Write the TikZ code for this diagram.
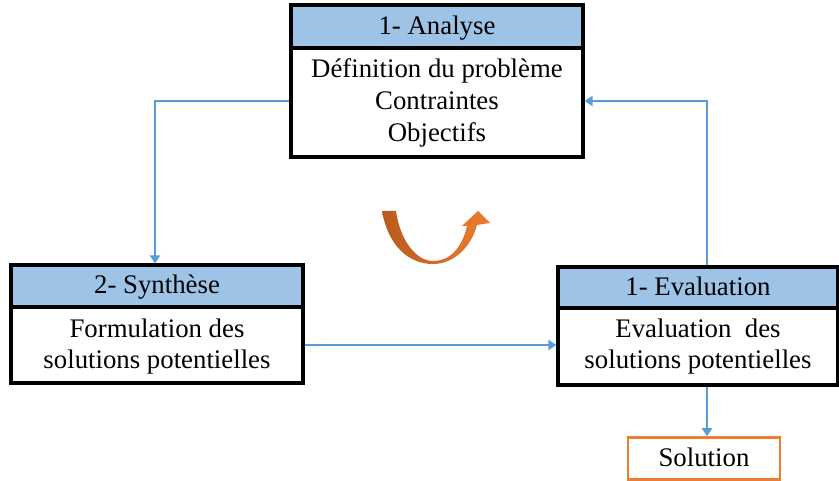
\documentclass[tikz,border=0pt]{standalone}
\usepackage{fontspec}
\setmainfont{Liberation Serif}[Ligatures=TeX]
\usetikzlibrary{arrows.meta}
\definecolor{hdrblue}{HTML}{9DC3E6}
\definecolor{arrblue}{HTML}{5B9BD5}
\definecolor{orng}{HTML}{ED7D31}
\definecolor{dorng}{HTML}{B85A1E}
\tikzset{
  hdr/.style={draw=black, line width=3.2pt, fill=hdrblue, inner sep=0pt, text height=20pt, text depth=4pt, font=\rmfamily\fontsize{26.8}{30}\selectfont},
  bodybox/.style={draw=black, line width=3.2pt, fill=white, inner sep=0pt, align=center, font=\rmfamily\fontsize{26.8}{32}\selectfont},
  solbox/.style={draw=orng, line width=2.6pt, fill=white, inner sep=0pt, text height=20pt, text depth=4pt, font=\rmfamily\fontsize{26.8}{30}\selectfont},
  conn/.style={draw=arrblue, line width=2.8pt, -{Triangle[width=10pt,length=8pt]}}
}
\begin{document}
\begin{tikzpicture}[x=1pt,y=-1pt]
\useasboundingbox (0,0) rectangle (839,481);
% Analyse
\node[bodybox, minimum width=292pt, minimum height=109pt] (anbody) at (437,102.5)
  {Définition du problème\\Contraintes\\Objectifs};
\node[hdr, minimum width=292pt, minimum height=43pt] (anhead) at (437,26.5) {1- Analyse};
% Synthese
\node[bodybox, minimum width=292pt, minimum height=76pt, font=\rmfamily\fontsize{26.8}{31}\selectfont] (synbody) at (157,345)
  {\rule{0pt}{21pt}Formulation des\\solutions potentielles};
\node[hdr, minimum width=292pt, minimum height=42pt] (synhead) at (157,286) {2- Synthèse};
% Evaluation
\node[bodybox, minimum width=280pt, minimum height=77pt, font=\rmfamily\fontsize{26.8}{31}\selectfont] (evbody) at (698,346.5)
  {Evaluation\ \ des\\solutions potentielles};
\node[hdr, minimum width=280pt, minimum height=41pt] (evhead) at (698,287.5) {1- Evaluation};
% Solution
\node[solbox, minimum width=152pt, minimum height=42pt] (sol) at (704,458.5) {Solution};
% connectors
\coordinate (cl) at (155,101);
\coordinate (cr) at (707,101);
\draw[conn] (anbody.west |- cl) -| (synhead.north -| cl);
\draw[conn] (synbody.east) -- (synbody.east -| evbody.west);
\draw[conn] (evhead.north -| cr) -- (cr) -- (anbody.east |- cr);
\draw[conn] (evbody.south -| cr) -- (sol.north -| cr);
% curved orange arrow
\shade[left color=dorng, right color=orng]
  (382,211) .. controls (388,245) and (408,264) .. (433,264)
  .. controls (455,264) and (472,245) .. (477,225)
  -- (490,223) -- (478,211) -- (462,226) -- (467,226)
  .. controls (462,248) and (450,261) .. (433,261)
  .. controls (416,261) and (400,240) .. (396,211) -- cycle;
\end{tikzpicture}
\end{document}
